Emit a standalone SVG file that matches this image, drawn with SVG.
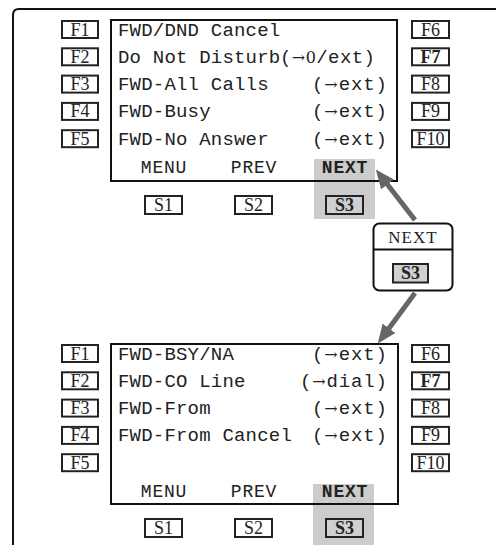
<svg xmlns="http://www.w3.org/2000/svg" width="496" height="545" viewBox="0 0 496 545">
<style>
.frame{fill:none;stroke:#111;stroke-width:2}
.screen{fill:none;stroke:#111;stroke-width:2}
.hl{fill:#cccccc}
.key{fill:#fff;stroke:#222;stroke-width:2}
.keyg{fill:#d0d0d0;stroke:#222;stroke-width:2}
.kt{font-family:"Liberation Serif",serif;font-size:18px;fill:#222;text-anchor:middle}
.b{font-weight:bold}
.mono{font-family:"Liberation Mono",monospace;font-size:19px;fill:#222;letter-spacing:0.2px}
.par{font-family:"Liberation Mono",monospace;font-size:19px;fill:#222}
.ser{font-family:"DejaVu Serif",serif;font-size:16px}
.soft{font-family:"Liberation Mono",monospace;font-size:18px;fill:#222;text-anchor:middle;letter-spacing:0.8px}
.arr{stroke:#666;stroke-width:5;fill:none}
.ct{font-family:"Liberation Serif",serif;font-size:17px;fill:#222;text-anchor:middle;letter-spacing:1px}
</style>
<defs>
<marker id="ah" markerUnits="userSpaceOnUse" markerWidth="20" markerHeight="16" refX="5" refY="8" orient="auto">
<path d="M0,0 L19,8 L0,16 z" fill="#666"/>
</marker>
</defs>
<path class="frame" d="M13,545 V15 Q13,9 19,9 H496"/>

<g id="screen1">
<rect class="hl" x="314" y="159" width="61" height="60"/>
<rect class="screen" x="111" y="20" width="286" height="161"/>
<text class="mono" x="118" y="35.5">FWD/DND Cancel</text>
<text class="mono" x="118" y="62.8">Do Not Disturb</text>
<text class="par" x="280" y="62.8" textLength="95" lengthAdjust="spacing">(<tspan class="ser">→0</tspan>/ext)</text>
<text class="mono" x="118" y="90.1">FWD-All Calls</text>
<text class="par" x="312" y="90.1" textLength="75" lengthAdjust="spacing">(<tspan class="ser">→</tspan>ext)</text>
<text class="mono" x="118" y="117.4">FWD-Busy</text>
<text class="par" x="312" y="117.4" textLength="75" lengthAdjust="spacing">(<tspan class="ser">→</tspan>ext)</text>
<text class="mono" x="118" y="144.7">FWD-No Answer</text>
<text class="par" x="312" y="144.7" textLength="75" lengthAdjust="spacing">(<tspan class="ser">→</tspan>ext)</text>
<text class="soft" x="164" y="173">MENU</text>
<text class="soft" x="254" y="173">PREV</text>
<text class="soft b" x="345" y="173">NEXT</text>
</g>
<g id="fkeys1">
<rect class="key" x="62" y="21" width="36" height="17"/><text class="kt" x="80" y="35.5">F1</text>
<rect class="key" x="62" y="48.3" width="36" height="17"/><text class="kt" x="80" y="62.8">F2</text>
<rect class="key" x="62" y="75.6" width="36" height="17"/><text class="kt" x="80" y="90.1">F3</text>
<rect class="key" x="62" y="102.9" width="36" height="17"/><text class="kt" x="80" y="117.4">F4</text>
<rect class="key" x="62" y="130.2" width="36" height="17"/><text class="kt" x="80" y="144.7">F5</text>
<rect class="key" x="412" y="21" width="37" height="17"/><text class="kt" x="430.5" y="35.5">F6</text>
<rect class="key" x="412" y="48.3" width="37" height="17"/><text class="kt b" x="430.5" y="62.8">F7</text>
<rect class="key" x="412" y="75.6" width="37" height="17"/><text class="kt" x="430.5" y="90.1">F8</text>
<rect class="key" x="412" y="102.9" width="37" height="17"/><text class="kt" x="430.5" y="117.4">F9</text>
<rect class="key" x="412" y="130.2" width="37" height="17"/><text class="kt" x="430.5" y="144.7">F10</text>
</g>
<g id="skeys1">
<rect class="key" x="145" y="196" width="37" height="18"/><text class="kt" x="163.5" y="211">S1</text>
<rect class="key" x="235" y="196" width="37" height="18"/><text class="kt" x="253.5" y="211">S2</text>
<rect class="keyg" x="326" y="196" width="37" height="18"/><text class="kt b" x="344.5" y="211">S3</text>
</g>

<g id="callout">
<rect x="373.5" y="223.5" width="79" height="67" rx="6" fill="#fff" stroke="#111" stroke-width="2"/>
<line x1="373.5" y1="249.5" x2="452.5" y2="249.5" stroke="#111" stroke-width="2"/>
<text class="ct" x="413" y="243">NEXT</text>
<rect class="keyg" x="393" y="264" width="35" height="18.5"/><text class="kt b" x="410.5" y="279">S3</text>
</g>

<g id="connectors">
<line class="arr" x1="415" y1="220" x2="384.4" y2="180.5" marker-end="url(#ah)"/>
<line class="arr" x1="415" y1="293" x2="386.1" y2="332.3" marker-end="url(#ah)"/>
</g>

<g id="screen2">
<rect class="hl" x="313" y="484" width="61" height="61"/>
<rect class="screen" x="111" y="344" width="287" height="160"/>
<text class="mono" x="118" y="359.5">FWD-BSY/NA</text>
<text class="par" x="312" y="359.5" textLength="75" lengthAdjust="spacing">(<tspan class="ser">→</tspan>ext)</text>
<text class="mono" x="118" y="386.8">FWD-CO Line</text>
<text class="par" x="300" y="386.8" textLength="87" lengthAdjust="spacing">(<tspan class="ser">→</tspan>dial)</text>
<text class="mono" x="118" y="414.1">FWD-From</text>
<text class="par" x="312" y="414.1" textLength="75" lengthAdjust="spacing">(<tspan class="ser">→</tspan>ext)</text>
<text class="mono" x="118" y="441.4">FWD-From Cancel</text>
<text class="par" x="312" y="441.4" textLength="75" lengthAdjust="spacing">(<tspan class="ser">→</tspan>ext)</text>
<text class="soft" x="164" y="497">MENU</text>
<text class="soft" x="254" y="497">PREV</text>
<text class="soft b" x="345" y="497">NEXT</text>
</g>
<g id="fkeys2">
<rect class="key" x="62" y="345" width="36" height="17"/><text class="kt" x="80" y="359.5">F1</text>
<rect class="key" x="62" y="372.3" width="36" height="17"/><text class="kt" x="80" y="386.8">F2</text>
<rect class="key" x="62" y="399.6" width="36" height="17"/><text class="kt" x="80" y="414.1">F3</text>
<rect class="key" x="62" y="426.9" width="36" height="17"/><text class="kt" x="80" y="441.4">F4</text>
<rect class="key" x="62" y="454.2" width="36" height="17"/><text class="kt" x="80" y="468.7">F5</text>
<rect class="key" x="412" y="345" width="37" height="17"/><text class="kt" x="430.5" y="359.5">F6</text>
<rect class="key" x="412" y="372.3" width="37" height="17"/><text class="kt b" x="430.5" y="386.8">F7</text>
<rect class="key" x="412" y="399.6" width="37" height="17"/><text class="kt" x="430.5" y="414.1">F8</text>
<rect class="key" x="412" y="426.9" width="37" height="17"/><text class="kt" x="430.5" y="441.4">F9</text>
<rect class="key" x="412" y="454.2" width="37" height="17"/><text class="kt" x="430.5" y="468.7">F10</text>
</g>
<g id="skeys2">
<rect class="key" x="145" y="519" width="37" height="18"/><text class="kt" x="163.5" y="534">S1</text>
<rect class="key" x="235" y="519" width="37" height="18"/><text class="kt" x="253.5" y="534">S2</text>
<rect class="keyg" x="326" y="519" width="37" height="18"/><text class="kt b" x="344.5" y="534">S3</text>
</g>
</svg>
